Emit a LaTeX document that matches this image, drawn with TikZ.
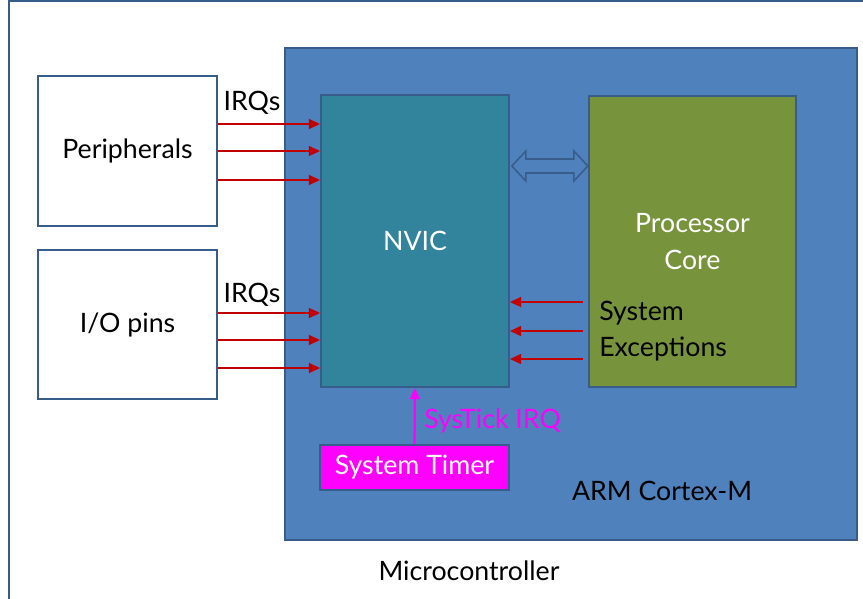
\documentclass[tikz,border=0pt]{standalone}
\usepackage{fontspec}
\setmainfont{Lato}
\usepackage{tikz}
\usetikzlibrary{arrows.meta}

\definecolor{cortexblue}{HTML}{4F81BD}
\definecolor{cortexline}{HTML}{385D8A}
\definecolor{nvicteal}{HTML}{31849B}
\definecolor{coregreen}{HTML}{77933C}
\definecolor{irqred}{HTML}{C00000}
\definecolor{tickpink}{HTML}{FF00FF}

\tikzset{
  lbl/.style={font=\fontsize{19}{22}\selectfont, inner sep=0pt},
  whitebox/.style={draw=cortexline, line width=1.2pt, fill=white, lbl},
  unit/.style={draw=cortexline, line width=1.2pt, lbl, text=white},
  irq/.style={draw=irqred, line width=1.3pt, -{Triangle[length=8pt,width=7pt]}},
}

\begin{document}
\begin{tikzpicture}[x=0.025cm, y=-0.025cm]
	\useasboundingbox (0,0) rectangle (863,599);
	% Microcontroller frame
	\draw[cortexline, line width=1.2pt] (9,610) -- (9,1) -- (870,1);
	\node[lbl] (mcu) at (469,571) {Microcontroller};
	
	% ARM Cortex-M
	\node[unit, fill=cortexblue, minimum width=14.3cm, minimum height=12.3cm] (cortex) at (571,294) {};
	\node[lbl] (cortexlbl) at (662,491) {ARM Cortex-M};
	
	% NVIC and processor core
	\node[unit, fill=nvicteal, minimum width=4.7cm, minimum height=7.3cm] (nvic) at (415,241) {NVIC};
	\node[unit, fill=coregreen, minimum width=5.175cm, minimum height=7.275cm, align=center] (core) at (692.5,241.5) {Processor\\[4pt]Core};
	\node[lbl, anchor=west, align=left] (sysexc) at (599,331) {System\\[4pt]Exceptions};
	
	% Bus between NVIC and core
	\coordinate (busl) at (nvic.east |- 0,166);
	\draw[cortexline, line width=1.1pt, fill=cortexblue]
	  (busl) ++(2,0) -- ++(14,-15) -- ++(0,8) -- ++(48,0) -- ++(0,-8) -- ++(14,15)
	  -- ++(-14,15) -- ++(0,-8) -- ++(-48,0) -- ++(0,8) -- cycle;
	
	% Peripherals
	\node[whitebox, minimum width=4.475cm, minimum height=3.75cm] (periph) at (127.5,151) {Peripherals};
	\node[lbl] (irqa) at (252,103) {IRQs};
	\draw[irq] (periph.east |- 0,124) -- (nvic.west |- 0,124);
	\draw[irq] (periph.east |- 0,151) -- (nvic.west |- 0,151);
	\draw[irq] (periph.east |- 0,180) -- (nvic.west |- 0,180);
	
	% I/O pins
	\node[whitebox, minimum width=4.475cm, minimum height=3.725cm] (iopins) at (127.5,324.5) {I/O pins};
	\node[lbl] (irqb) at (252,295) {IRQs};
	\draw[irq] (iopins.east |- 0,313) -- (nvic.west |- 0,313);
	\draw[irq] (iopins.east |- 0,340) -- (nvic.west |- 0,340);
	\draw[irq] (iopins.east |- 0,368) -- (nvic.west |- 0,368);
	
	% System exceptions
	\draw[irq, shorten <=4pt] (core.west |- 0,302) -- (nvic.east |- 0,302);
	\draw[irq, shorten <=4pt] (core.west |- 0,331) -- (nvic.east |- 0,331);
	\draw[irq, shorten <=4pt] (core.west |- 0,359) -- (nvic.east |- 0,359);
	
	% System timer
	\node[unit, fill=tickpink, minimum width=4.725cm, minimum height=1.125cm] (timer) at (414.5,467.5) {System Timer};
	\draw[tickpink, line width=1.6pt, -{Triangle[length=8pt,width=7pt]}] (timer.north) -- (nvic.south);
	\node[lbl, text=tickpink, anchor=west] (ticklbl) at (424,421) {SysTick IRQ};
\end{tikzpicture}
\end{document}
